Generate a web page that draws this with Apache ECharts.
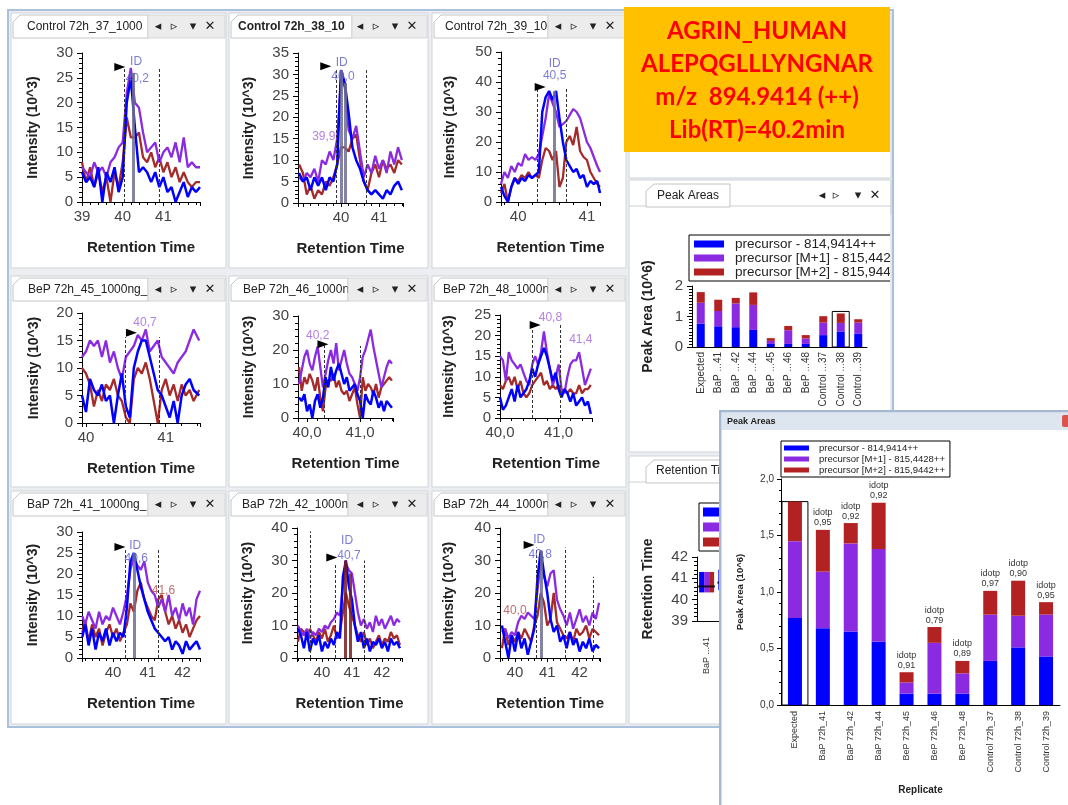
<!DOCTYPE html>
<html><head><meta charset="utf-8">
<script src="https://cdn.jsdelivr.net/npm/echarts@6/dist/echarts.min.js"></script>
<style>
html,body{margin:0;padding:0;background:#fff;}
#main{position:absolute;left:0;top:0;width:1068px;height:805px;}
#inset{position:absolute;left:719px;top:410px;width:349px;height:395px;}
</style></head><body>
<div id="main"></div><div id="inset"></div>
<script>
// ---------------- DATA ----------------
const chromTitles = ['Control 72h_37_1000','Control 72h_38_10','Control 72h_39_10','BeP 72h_45_1000ng_','BeP 72h_46_1000n','BeP 72h_48_1000n','BaP 72h_41_1000ng_','BaP 72h_42_1000n','BaP 72h_44_1000n'];

const p1Time = [39.0,39.1,39.2,39.3,39.4,39.5,39.6,39.7,39.8,39.9,40.0,40.1,40.2,40.3,40.4,40.5,40.6,40.7,40.8,40.9,41.0,41.1,41.2,41.3,41.4,41.5,41.6,41.7,41.8,41.9];
const p1Blue = [6,4,5,3,7,0,6,4,7,2,5,20,25,15,6,7,6,4,6,3,5,2,3,0,2,4,1,3,2,3];
const p1Purple = [7,6,5,8,6,7,5,8,9,11,12,22,27,20,19,14,10,11,12,8,10,11,9,12,8,13,7,8,7,7];
const p1Red = [8,4,7,3,6,2,5,0,6,3,8,17,13,13,14,9,8,10,7,9,6,8,5,7,4,6,4,3,4,4];

const p2Time = [38.9,39.0,39.1,39.2,39.3,39.4,39.5,39.6,39.7,39.8,39.9,40.0,40.1,40.2,40.3,40.4,40.5,40.6,40.7,40.8,40.9,41.0,41.1,41.2,41.3,41.4,41.5,41.6];
const p2Blue = [7,5,6,3,6,4,6,3,6,5,9,31,28,21,13,10,8,5,3,2,3,2,1,3,2,4,5,3];
const p2Purple = [6,5,7,6,8,5,10,9,12,10,15,29,27,17,15,18,12,6,9,7,11,8,10,7,12,9,13,10];
const p2Red = [9,7,2,4,1,3,2,5,4,6,9,13,13,12,15,16,10,5,3,7,9,6,10,8,9,7,10,9];

const p3Time = [39.75,39.8,39.85,39.9,39.95,40.0,40.05,40.1,40.15,40.2,40.25,40.3,40.35,40.4,40.45,40.5,40.55,40.6,40.65,40.7,40.75,40.8,40.85,40.9,40.95,41.0,41.05,41.1,41.15,41.19];
const p3Blue = [5,2,0,5,8,6,8,7,9,8,9,10,30,35,37,34,37,28,20,14,12,10,11,8,9,5,7,6,7,3];
const p3Purple = [6,10,8,12,10,13,12,16,14,15,14,16,22,28,36,33,30,25,26,27,29,31,30,28,24,20,18,15,12,10];
const p3Red = [3,6,0,5,8,7,9,8,10,8,9,8,14,18,17,14,17,5,8,20,22,19,25,17,15,14,10,8,6,5];

const p4Time = [39.95,40.0,40.05,40.1,40.15,40.2,40.25,40.3,40.35,40.4,40.45,40.5,40.55,40.6,40.65,40.7,40.75,40.8,40.85,40.9,40.95,41.0,41.05,41.1,41.15,41.2,41.25,41.3,41.35,41.42];
const p4Blue = [5,2,8,6,5,7,4,5,0,5,9,3,1,10,13,15,15,12,9,6,5,3,1,4,0,5,7,8,6,5];
const p4Purple = [12,13,15,14,15,12,15,11,13,10,8,12,13,14,16,15,17,13,14,15,12,11,10,9,11,12,13,15,17,15];
const p4Red = [10,9,7,3,6,4,7,6,8,5,4,1,0,8,10,9,11,8,4,0,6,8,5,7,4,7,5,6,4,6];

const p5Time = [39.85,39.9,39.95,40.0,40.05,40.1,40.15,40.2,40.25,40.3,40.35,40.4,40.45,40.5,40.55,40.6,40.65,40.7,40.75,40.8,40.85,40.9,40.95,41.0,41.05,41.1,41.15,41.2,41.25,41.3,41.35,41.4,41.45,41.5,41.55,41.6];
const p5Blue = [6,5,7,2,4,0,5,7,3,6,12,9,15,11,14,16,13,10,12,8,9,10,7,5,0,7,5,4,8,6,3,5,2,5,4,3];
const p5Purple = [10,14,18,20,16,14,18,21,15,9,13,17,20,16,22,14,17,20,16,13,12,10,8,12,18,20,23,26,21,17,13,9,12,15,17,16];
const p5Red = [15,8,12,10,13,11,8,12,6,2,9,11,11,13,9,11,8,7,8,5,7,9,4,0,12,8,10,9,7,10,6,9,10,11,12,11];

const p6Time = [40.0,40.05,40.1,40.15,40.2,40.25,40.3,40.35,40.4,40.45,40.5,40.55,40.6,40.65,40.7,40.75,40.8,40.85,40.9,40.95,41.0,41.05,41.1,41.15,41.2,41.25,41.3,41.35,41.4,41.45,41.5,41.55];
const p6Blue = [5,2,3,5,7,4,8,5,6,7,9,12,10,13,15,17,15,12,9,11,7,5,7,6,4,6,3,4,5,3,4,1];
const p6Purple = [15,14,9,16,14,13,12,13,11,9,8,13,15,13,16,21,16,12,8,10,13,7,6,10,13,14,14,16,12,8,10,12];
const p6Red = [8,7,9,10,8,10,7,9,6,5,6,8,9,10,11,8,9,7,8,7,8,6,7,6,7,6,6,8,6,7,7,8];

const p7Time = [39.12,39.2,39.3,39.4,39.5,39.6,39.7,39.8,39.9,40.0,40.1,40.2,40.3,40.4,40.5,40.6,40.7,40.8,40.9,41.0,41.1,41.2,41.3,41.4,41.5,41.6,41.7,41.8,41.9,42.0,42.1,42.2,42.3,42.4,42.5];
const p7Blue = [5,8,3,7,2,6,4,7,3,6,4,6,5,12,23,25,21,17,14,11,9,7,6,5,4,5,2,4,3,1,4,2,3,4,2];
const p7Purple = [10,8,11,9,7,11,8,10,9,12,10,8,11,15,21,24,22,21,23,18,16,15,12,14,11,15,10,12,9,13,10,12,8,14,16];
const p7Red = [6,9,4,8,5,7,3,6,8,5,7,4,6,8,13,11,16,18,14,12,10,9,14,15,11,8,10,7,9,6,8,5,7,9,10];

const p8Time = [39.2,39.3,39.4,39.5,39.6,39.7,39.8,39.9,40.0,40.1,40.2,40.3,40.4,40.5,40.6,40.7,40.8,40.9,41.0,41.1,41.2,41.3,41.4,41.5,41.6,41.7,41.8,41.9,42.0,42.1,42.2,42.3,42.4,42.5,42.6];
const p8Blue = [9,7,3,8,2,6,4,7,2,5,3,6,4,8,6,25,30,22,18,10,5,8,3,6,2,5,4,6,3,5,2,6,4,5,3];
const p8Purple = [10,8,7,9,6,8,7,9,8,10,9,11,12,14,13,22,29,27,26,20,14,10,12,9,11,8,13,10,12,9,11,13,10,12,11];
const p8Red = [5,9,8,6,9,7,5,8,6,9,5,7,10,6,8,14,20,16,13,10,7,5,8,4,6,3,5,7,4,6,5,8,6,7,4];

const p9Time = [39.6,39.7,39.8,39.9,40.0,40.1,40.2,40.3,40.4,40.5,40.6,40.7,40.8,40.9,41.0,41.1,41.2,41.3,41.4,41.5,41.6,41.7,41.8,41.9,42.0,42.1,42.2,42.3,42.4,42.5,42.6];
const p9Blue = [10,5,0,7,2,8,3,6,1,5,9,25,33,26,20,12,8,10,5,7,3,8,4,6,2,5,3,6,2,4,3];
const p9Purple = [8,9,6,8,7,11,13,12,14,13,12,21,30,25,22,26,27,18,15,13,10,14,9,12,15,11,13,10,14,12,17];
const p9Red = [3,9,4,7,5,8,6,9,7,5,10,13,20,17,10,12,20,11,9,7,6,8,5,9,7,8,10,6,9,8,7];

// axis ranges / tick labels
const xRanges = [[39,41.9],[38.87,41.63],[39.75,41.19],[39.95,41.43],[39.83,41.62],[40.0,41.57],[39.11,42.5],[39.17,42.67],[39.54,42.63]];
const yMaxes = [30,35,50,20,30,25,30,40,40];
const yIntervals = [5,5,10,5,10,5,5,10,10];
const xTickLabels = [[39,40,41],[40,41],[40,41],[40,41],[40,41],[40,41],[40,41,42],[40,41,42],[40,41,42]];
const xLabelDecimals = [0,0,0,0,1,1,0,0,0];

// peak annotations (time, intensity)
const peakBounds = [[[40.04,27],[40.9,27]],[[39.87,31],[40.66,31]],[[40.27,38],[40.7,38]],[[40.49,15.6],[40.92,15.6]],[[40.32,21.8],[41.0,21.2]],[[40.55,22.6],[41.03,22.6]],[[40.34,26],[41.3,26]],[[39.61,39],[40.45,28.6],[41.41,30]],[[40.66,34],[41.57,34],[42.43,25]]];
const apexLines = [[[40.25,26]],[[40.0,31],[40.12,28]],[[40.53,37]],[],[],[],[[40.62,25]],[[40.78,30],[40.95,26]],[[40.8,33]]];
const flagPoints = [[39.93,27.2],[39.6,31.9],[40.32,38.3],[40.57,16.4],[40.3,21.7],[40.6,22.6],[40.2,26.4],[40.33,30.9],[40.44,34.8]];
const peakNotes = [
  [[40.33,28.2,'ID','id'],[40.36,24.8,'40,2','id']],
  [[40.02,32.7,'ID','id'],[40.05,29.4,'40,0','id'],[39.55,15.4,'39,9','purple']],
  [[40.53,46,'ID','id'],[40.53,42,'40,5','id']],
  [[40.74,18.2,'40,7','purple']],
  [[40.2,24.2,'40,2','purple']],
  [[40.86,24.4,'40,8','purple'],[41.38,19,'41,4','purple']],
  [[40.64,26.8,'ID','id'],[40.67,23.7,'40,6','id'],[41.45,16,'41,6','red']],
  [[40.84,36,'ID','id'],[40.9,31.5,'40,7','id']],
  [[40.75,36.4,'ID','id'],[40.78,31.7,'40,8','id'],[40.0,14.7,'40,0','red']]
];

// peak areas (10^6)
const replicates = ['Expected','BaP 72h_41','BaP 72h_42','BaP 72h_44','BeP 72h_45','BeP 72h_46','BeP 72h_48','Control 72h_37','Control 72h_38','Control 72h_39'];
const replicatesShort = ['Expected','BaP ...41','BaP ...42','BaP ...44','BeP ...45','BeP ...46','BeP ...48','Control ...37','Control ...38','Control ...39'];
const areaPrecursor = [0.77,0.68,0.65,0.56,0.10,0.10,0.10,0.39,0.51,0.43];
const areaM1 = [0.68,0.50,0.78,0.82,0.10,0.45,0.18,0.41,0.28,0.37];
const areaM2 = [0.35,0.37,0.18,0.41,0.09,0.14,0.11,0.21,0.31,0.11];
const idotp = ['','0,95','0,92','0,92','0,91','0,79','0,89','0,97','0,90','0,95'];
const legendNames = ['precursor - 814,9414++','precursor [M+1] - 815,4428++','precursor [M+2] - 815,9442++'];
const selectedSmall = 8;
const selectedBig = 0;

// retention times
const rtReplicates = ['BaP ...41','BaP ...42','BaP ...44','BeP ...45','BeP ...46','BeP ...48','Control ...37','Control ...38','Control ...39'];
const rtStart = [40.34,40.45,40.66,40.49,40.32,40.55,40.04,39.87,40.27];
const rtEnd = [41.3,41.41,41.57,40.92,41.0,41.03,40.9,40.66,40.7];
const rtApex = [40.62,40.8,40.8,40.7,40.2,40.8,40.2,40.0,40.5];

const infoLines = ['AGRIN_HUMAN','ALEPQGLLLYNGNAR','m/z  894.9414 (++)','Lib(RT)=40.2min'];

// ---------------- LAYOUT / STYLE ----------------
const FONT = 'Liberation Sans, Arial, sans-serif';
const BLUE = '#0000ff', PURPLE = '#8a2be2', RED = '#a52a2a';
const noteColors = {id:'#5a5ad0', purple:'#a060e0', red:'#b04848'};
const gridBoxes = [[82,53,200,202],[298,53,403,203],[501,52,600,202],[82,313,200,423],[298,316,393,418],[500,315,592,418],[82,532,200,658],[297,528,402,658],[500,528,600,658]];
const yNameGaps = [42,42,44,41,42,44,42,42,44];
const cellBoxes = [[11,13,215,255],[229,13,199,255],[432,13,194,255],[11,276,215,211],[229,276,199,211],[432,276,194,211],[11,491,215,233],[229,491,199,233],[432,491,194,233]];
const tabRights = [148,352,548,148,348,548,148,348,548];
const tabTextX = [27,238,445,28,243,443,27,242,443];

const chromData = [
  {time:p1Time,blue:p1Blue,purple:p1Purple,red:p1Red},
  {time:p2Time,blue:p2Blue,purple:p2Purple,red:p2Red},
  {time:p3Time,blue:p3Blue,purple:p3Purple,red:p3Red},
  {time:p4Time,blue:p4Blue,purple:p4Purple,red:p4Red},
  {time:p5Time,blue:p5Blue,purple:p5Purple,red:p5Red},
  {time:p6Time,blue:p6Blue,purple:p6Purple,red:p6Red},
  {time:p7Time,blue:p7Blue,purple:p7Purple,red:p7Red},
  {time:p8Time,blue:p8Blue,purple:p8Purple,red:p8Red},
  {time:p9Time,blue:p9Blue,purple:p9Purple,red:p9Red}
];

// ---------------- CHROME ----------------
const chrome = [];
chrome.push({type:'rect', z:-10, shape:{x:8,y:10,width:885,height:717}, style:{fill:'#eceef2', stroke:'#a9c1dd', lineWidth:2}});
[[629,13,262,165],[629,180,262,272],[629,456,262,268]].forEach(c=>chrome.push({type:'rect', z:-9, shape:{x:c[0],y:c[1],width:c[2],height:c[3]}, style:{fill:'#fff', stroke:'#cfd4da', lineWidth:1}}));
cellBoxes.forEach((c,i)=>{
  const [cx,cy,cw,ch] = c;
  chrome.push({type:'rect', z:-9, shape:{x:cx,y:cy,width:cw,height:ch}, style:{fill:'#fff', stroke:'#cfd4da', lineWidth:1}});
  const tr = tabRights[i];
  chrome.push({type:'polygon', z:-8, shape:{points:[[cx+2,cy+25],[cx+2,cy+9],[cx+9,cy+2],[tr,cy+2],[tr,cy+25]]}, style:{fill:'#fff', stroke:'#c4c4c4', lineWidth:1}});
  chrome.push({type:'text', z:-7, style:{text:chromTitles[i], x:tabTextX[i], y:cy+14, fill:'#222', font:(i===1?'bold ':'')+'12px '+FONT, verticalAlign:'middle'}});
  chrome.push({type:'rect', z:-6, shape:{x:tr,y:cy+2,width:cx+cw-tr-1,height:23}, style:{fill:'#ececec', stroke:'#d6d6d6', lineWidth:1}});
  const r = cx+cw;
  [['◂',-68],['▹',-52],['▾',-33],['✕',-16]].forEach(a=>chrome.push({type:'text', z:-5, style:{text:a[0], x:r+a[1], y:cy+14, fill:'#222', font:'bold 13px DejaVu Sans', align:'center', verticalAlign:'middle'}}));
});
// Peak Areas panel tab
chrome.push({type:'line', z:-8, shape:{x1:629,y1:206,x2:891,y2:206}, style:{stroke:'#d0d0d0', lineWidth:1}});
chrome.push({type:'polygon', z:-7, shape:{points:[[646,207],[646,191],[654,184],[730,184],[730,207]]}, style:{fill:'#fff', stroke:'#c4c4c4', lineWidth:1}});
chrome.push({type:'text', z:-6, style:{text:'Peak Areas', x:657, y:196, fill:'#222', font:'12px '+FONT, verticalAlign:'middle'}});
[['◂',822],['▹',836],['▾',858],['✕',875]].forEach(a=>chrome.push({type:'text', z:-5, style:{text:a[0], x:a[1], y:196, fill:'#222', font:'bold 13px DejaVu Sans', align:'center', verticalAlign:'middle'}}));
// Retention Time panel tab
chrome.push({type:'line', z:-8, shape:{x1:629,y1:482,x2:891,y2:482}, style:{stroke:'#d0d0d0', lineWidth:1}});
chrome.push({type:'polygon', z:-7, shape:{points:[[646,483],[646,467],[654,460],[760,460],[760,483]]}, style:{fill:'#fff', stroke:'#c4c4c4', lineWidth:1}});
chrome.push({type:'text', z:-6, style:{text:'Retention Time', x:656, y:471, fill:'#222', font:'12px '+FONT, verticalAlign:'middle'}});
// orange info box
chrome.push({type:'rect', z:-4, shape:{x:624,y:7,width:266,height:145}, style:{fill:'#ffc000'}});
[31,64,97,130].forEach((y,k)=>chrome.push({type:'text', z:-3, style:{text:infoLines[k], x:757, y:y, fill:'#ff0000', font:'bold 24px Lato', align:'center', verticalAlign:'middle'}}));
// mask for clipped legend
chrome.push({type:'rect', z:100, shape:{x:890,y:215,width:178,height:195}, style:{fill:'#fff'}});
chrome.push({type:'line', z:101, shape:{x1:891,y1:180,x2:891,y2:452}, style:{stroke:'#cfd4da', lineWidth:1}});
chrome.push({type:'line', z:101, shape:{x1:893,y1:10,x2:893,y2:727}, style:{stroke:'#a9c1dd', lineWidth:2}});

// ---------------- MAIN OPTION ----------------
const grids=[], xAxes=[], yAxes=[], series=[];
const tickStyle = {lineStyle:{color:'#000', width:1}};
chromData.forEach((d,i)=>{
  const [l,t,r,b] = gridBoxes[i];
  grids.push({left:l, top:t, width:r-l, height:b-t});
  const labels = xTickLabels[i], dec = xLabelDecimals[i];
  xAxes.push({type:'value', gridIndex:i, min:xRanges[i][0], max:xRanges[i][1], minInterval:1, maxInterval:1,
    axisLine:{onZero:false, lineStyle:{color:'#000'}}, axisTick:{show:true, length:4, ...tickStyle},
    minorTick:{show:true, splitNumber:5, length:3, ...tickStyle}, splitLine:{show:false},
    axisLabel:{showMinLabel:true, showMaxLabel:true, fontSize:15, color:'#444', margin:7, formatter:(v)=>{const h=labels.find(L=>Math.abs(L-v)<1e-6); return h===undefined?'':(dec?h.toFixed(1).replace('.',','):String(h));}},
    name:'Retention Time', nameLocation:'middle', nameGap:38, nameTextStyle:{fontWeight:'bold', fontSize:15, color:'#222'}});
  yAxes.push({type:'value', gridIndex:i, min:0, max:yMaxes[i], interval:yIntervals[i],
    axisLine:{show:true, onZero:false, lineStyle:{color:'#000'}}, axisTick:{show:true, length:5, ...tickStyle},
    minorTick:{show:true, splitNumber:5, length:3, ...tickStyle}, splitLine:{show:false},
    axisLabel:{fontSize:15, color:'#444', margin:9},
    name:'Intensity (10^3)', nameLocation:'middle', nameGap:yNameGaps[i], nameRotate:90, nameTextStyle:{fontWeight:'bold', fontSize:14, color:'#222'}});
  const pts = vals => d.time.map((tt,k)=>[tt, vals[k]]);
  const lineMarks = peakBounds[i].map(([x,h])=>[{coord:[x,0], lineStyle:{type:[3,2], color:'#333', width:1}},{coord:[x,h]}])
    .concat(apexLines[i].map(([x,h])=>[{coord:[x,0], lineStyle:{type:'solid', color:(i===7?'#7a1c1c':'#6e6e92'), width:3, opacity:0.85}},{coord:[x,h]}]));
  series.push({type:'line', name:'m2_'+i, xAxisIndex:i, yAxisIndex:i, data:pts(d.red), symbol:'none', lineStyle:{color:RED, width:2.3}, itemStyle:{color:RED}, z:2,
    markLine:{silent:true, symbol:['none','none'], label:{show:false}, data:lineMarks, animation:false}});
  series.push({type:'line', name:'m1_'+i, xAxisIndex:i, yAxisIndex:i, data:pts(d.purple), symbol:'none', lineStyle:{color:PURPLE, width:2.3}, itemStyle:{color:PURPLE}, z:3});
  series.push({type:'line', name:'m0_'+i, xAxisIndex:i, yAxisIndex:i, data:pts(d.blue), symbol:'none', lineStyle:{color:BLUE, width:2.5}, itemStyle:{color:BLUE}, z:4,
    markPoint:{silent:true, symbol:'triangle', symbolRotate:-90, symbolSize:[8,11], itemStyle:{color:'#000'}, label:{show:false}, data:[{coord:flagPoints[i]}], animation:false}});
  series.push({type:'scatter', name:'notes_'+i, xAxisIndex:i, yAxisIndex:i, symbol:'circle', symbolSize:1, itemStyle:{color:'rgba(0,0,0,0)'}, z:5, silent:true,
    data:peakNotes[i].map(n=>({value:[n[0],n[1]], label:{show:true, position:'inside', formatter:n[2], color:noteColors[n[3]], fontSize:12}}))});
});

// small peak-areas chart (grid 9)
const totals = areaPrecursor.map((v,k)=>v+areaM1[k]+areaM2[k]);
grids.push({left:692, top:286, width:175, height:61});
xAxes.push({type:'category', gridIndex:9, data:replicatesShort, axisLine:{lineStyle:{color:'#000'}}, axisTick:{alignWithLabel:true, length:3, ...tickStyle},
  axisLabel:{rotate:90, interval:0, fontSize:10, color:'#333', margin:5}});
yAxes.push({type:'value', gridIndex:9, min:0, max:2, interval:1, axisLine:{show:true, lineStyle:{color:'#000'}}, axisTick:{show:true, length:5, ...tickStyle},
  minorTick:{show:true, splitNumber:10, length:3, ...tickStyle}, splitLine:{show:false}, axisLabel:{fontSize:15, color:'#444', margin:9},
  name:'Peak Area (10^6)', nameLocation:'middle', nameGap:37, nameRotate:90, nameTextStyle:{fontWeight:'bold', fontSize:14, color:'#222'}});
[[areaPrecursor,BLUE],[areaM1,PURPLE],[areaM2,'#b22222']].forEach((s,k)=>series.push({type:'bar', name:legendNames[k], xAxisIndex:9, yAxisIndex:9, stack:'pa', barWidth:8, data:s[0], itemStyle:{color:s[1]}}));
series.push({type:'custom', name:'selSmall', xAxisIndex:9, yAxisIndex:9, z:1, silent:true, data:[[selectedSmall, totals[selectedSmall]]],
  renderItem:(p,api)=>{const x=api.value(0), v=api.value(1); const b=api.coord([x,0]), t=api.coord([x,v]); const w=api.size([1,0])[0]*0.97; return {type:'rect', shape:{x:b[0]-w/2, y:t[1]-2, width:w, height:b[1]-t[1]+2}, style:{fill:'none', stroke:'#000', lineWidth:1}};}});

// retention-time chart (grid 10)
grids.push({left:697, top:557, width:173, height:64});
xAxes.push({type:'category', gridIndex:10, data:rtReplicates, axisLine:{lineStyle:{color:'#000'}}, axisTick:{alignWithLabel:true, length:3, ...tickStyle},
  axisLabel:{rotate:90, interval:0, fontSize:9, color:'#333', margin:16}});
yAxes.push({type:'value', gridIndex:10, min:39, max:42, interval:1, axisLine:{show:true, onZero:false, lineStyle:{color:'#000'}}, axisTick:{show:true, length:5, ...tickStyle},
  minorTick:{show:true, splitNumber:5, length:3, ...tickStyle}, splitLine:{show:false}, axisLabel:{fontSize:15, color:'#444', margin:9},
  name:'Retention Time', nameLocation:'middle', nameGap:42, nameRotate:90, nameTextStyle:{fontWeight:'bold', fontSize:14, color:'#222'}});
const rtSpan = rtEnd.map((e,k)=>e-rtStart[k]);
[BLUE,PURPLE,'#b22222'].forEach((c,k)=>{
  series.push({type:'bar', name:'rtbase'+k, xAxisIndex:10, yAxisIndex:10, stack:'rt'+k, barWidth:5, barGap:'0%', data:rtStart, itemStyle:{color:'rgba(0,0,0,0)'}, silent:true});
  series.push({type:'bar', name:legendNames[k], xAxisIndex:10, yAxisIndex:10, stack:'rt'+k, barWidth:5, barGap:'0%', data:rtSpan, itemStyle:{color:c}});
});
series.push({type:'scatter', name:'rtApex', xAxisIndex:10, yAxisIndex:10, symbol:'rect', symbolSize:[17,2], itemStyle:{color:'#000'}, z:5, data:rtApex.map((v,k)=>[k,v])});

const mainOption = {
  animation:false,
  textStyle:{fontFamily:FONT},
  graphic:{elements:chrome},
  legend:[
    {data:legendNames, left:689, top:235, orient:'vertical', icon:'rect', itemWidth:30, itemHeight:7, itemGap:0, padding:[2,6,2,5], selectedMode:false,
     borderColor:'#000', borderWidth:1, backgroundColor:'#fff', textStyle:{fontSize:13.5, color:'#222', padding:[0,0,0,6]}, z:10},
    {data:legendNames, left:699, top:503, orient:'vertical', icon:'rect', itemWidth:30, itemHeight:9, itemGap:3, padding:[3,6,3,4], selectedMode:false,
     borderColor:'#000', borderWidth:1, backgroundColor:'#fff', textStyle:{fontSize:12, color:'#222'}, z:10}
  ],
  grid:grids, xAxis:xAxes, yAxis:yAxes, series:series
};
echarts.init(document.getElementById('main')).setOption(mainOption);

// ---------------- INSET WINDOW ----------------
const insetOption = {
  animation:false,
  textStyle:{fontFamily:FONT},
  graphic:{elements:[
    {type:'rect', z:-10, shape:{x:1,y:1,width:350,height:396}, style:{fill:'#fff', stroke:'#a5b8cf', lineWidth:3}},
    {type:'rect', z:-9, shape:{x:3,y:3,width:346,height:17}, style:{fill:'#dde5ee'}},
    {type:'text', z:-8, style:{text:'Peak Areas', x:8, y:12, fill:'#222', font:'bold 9px '+FONT, verticalAlign:'middle'}},
    {type:'rect', z:-8, shape:{x:343,y:5,width:12,height:12, r:2}, style:{fill:'#d9534f'}}
  ]},
  legend:{data:legendNames, left:62, top:31, orient:'vertical', icon:'rect', itemWidth:25, itemHeight:5, itemGap:1, padding:[2,5,2,3], selectedMode:false,
    borderColor:'#000', borderWidth:1, backgroundColor:'#fff', textStyle:{fontSize:9.5, color:'#222', lineHeight:10, padding:[0,0,0,5]}},
  grid:{left:62, right:8, top:69, bottom:100},
  xAxis:{type:'category', data:replicates, axisLine:{lineStyle:{color:'#000'}}, axisTick:{alignWithLabel:true, length:4, ...tickStyle},
    axisLabel:{rotate:90, interval:0, fontSize:9, color:'#333', margin:6},
    name:'Replicate', nameLocation:'middle', nameGap:80, nameTextStyle:{fontWeight:'bold', fontSize:10, color:'#222'}},
  yAxis:{type:'value', min:0, max:2, interval:0.5, axisLine:{show:true, lineStyle:{color:'#000'}}, axisTick:{show:true, length:4, ...tickStyle},
    minorTick:{show:true, splitNumber:5, length:2, ...tickStyle}, splitLine:{show:false},
    axisLabel:{fontSize:10, color:'#333', margin:7, formatter:v=>v.toFixed(1).replace('.',',')},
    name:'Peak Area (10^6)', nameLocation:'middle', nameGap:36, nameRotate:90, nameTextStyle:{fontWeight:'bold', fontSize:9.5, color:'#222'}},
  series:[
    {type:'bar', name:legendNames[0], stack:'pa', barWidth:14, data:areaPrecursor, itemStyle:{color:BLUE}},
    {type:'bar', name:legendNames[1], stack:'pa', barWidth:14, data:areaM1, itemStyle:{color:PURPLE}},
    {type:'bar', name:legendNames[2], stack:'pa', barWidth:14, data:areaM2, itemStyle:{color:'#b22222'},
      label:{show:true, position:'top', distance:2, fontSize:9, lineHeight:10, color:'#333', formatter:p=>idotp[p.dataIndex]?('idotp\n'+idotp[p.dataIndex]):''}},
    {type:'custom', name:'selBig', z:1, silent:true, data:[[selectedBig, totals[selectedBig]]],
      renderItem:(p,api)=>{const x=api.value(0), v=api.value(1); const b=api.coord([x,0]), t=api.coord([x,v]); const w=api.size([1,0])[0]*0.93; return {type:'rect', shape:{x:b[0]-w/2, y:t[1], width:w, height:b[1]-t[1]}, style:{fill:'none', stroke:'#000', lineWidth:1}};}}
  ]
};
echarts.init(document.getElementById('inset')).setOption(insetOption);
</script>
</body></html>
